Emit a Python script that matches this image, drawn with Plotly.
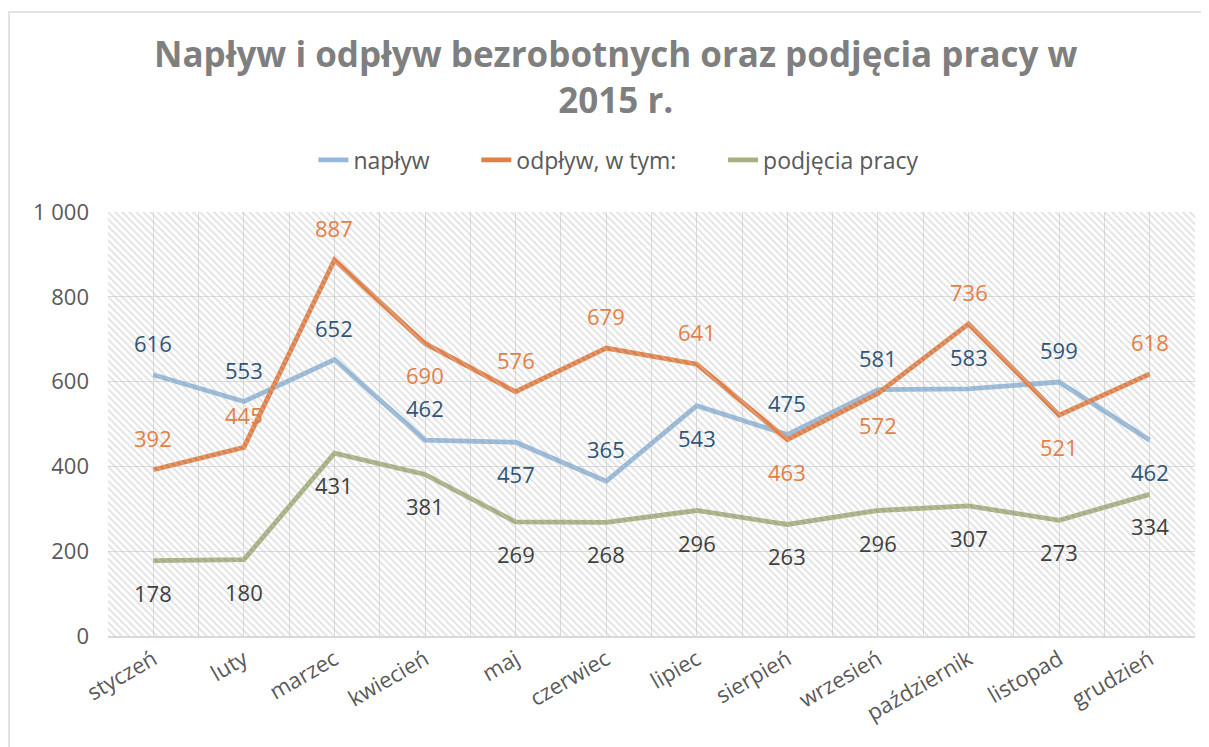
import plotly.graph_objects as go

months = ["styczeń", "luty", "marzec", "kwiecień", "maj", "czerwiec", "lipiec",
          "sierpień", "wrzesień", "październik", "listopad", "grudzień"]
naplyw = [616, 553, 652, 462, 457, 365, 543, 475, 581, 583, 599, 462]
odplyw = [392, 445, 887, 690, 576, 679, 641, 463, 572, 736, 521, 618]
podjecia = [178, 180, 431, 381, 269, 268, 296, 263, 296, 307, 273, 334]
# label position: 1 = above, -1 = below
naplyw_pos = [1, 1, 1, 1, -1, 1, -1, 1, 1, 1, 1, -1]
odplyw_pos = [1, 1, 1, -1, 1, 1, 1, -1, -1, 1, -1, 1]
podjecia_pos = [-1] * 12
y_ticks = [0, 200, 400, 600, 800, 1000]

FONT = "Open Sans"
xs = list(range(len(months)))
PAD = "\u00a0" * 7

fig = go.Figure()

# hatched plot background
fig.add_trace(go.Scatter(
    x=[0, 1, 1, 0, 0], y=[0, 0, 1, 1, 0], xaxis="x2", yaxis="y2",
    fill="toself", mode="none", fillcolor="rgba(0,0,0,0)",
    fillpattern=dict(shape="\\", fgcolor="#c4c4c4", bgcolor="rgba(255,255,255,0)",
                     size=5, solidity=0.35),
    showlegend=False, hoverinfo="skip"))

series = [
    ("napływ" + PAD, naplyw, naplyw_pos, "#94b8da", "#2f5679"),
    ("odpływ, w tym:" + PAD, odplyw, odplyw_pos, "#e47f44", "#e47f44"),
    ("podjęcia pracy", podjecia, podjecia_pos, "#a5b07f", "#404040"),
]
for name, vals, pos, lc, tc in series:
    fig.add_trace(go.Scatter(x=xs, y=vals, name=name, mode="lines",
                             line=dict(color=lc, width=4.8)))
    for xi, v, p in zip(xs, vals, pos):
        fig.add_annotation(x=xi, y=v, text=str(v), showarrow=False,
                           yshift=32 * p, font=dict(family=FONT, size=22, color=tc))

fig.add_annotation(xref="paper", yref="paper", x=0.467, y=1.3196,
                   xanchor="center", yanchor="middle", showarrow=False,
                   text="<b>Napływ i odpływ bezrobotnych oraz podjęcia pracy w<br>2015 r.</b>",
                   font=dict(family=FONT, size=35, color="#7f7f7f"))

fig.update_layout(
    width=1201, height=739,
    margin=dict(l=100, r=14, t=204, b=111),
    paper_bgcolor="white", plot_bgcolor="white",
    separators=", ",
    legend=dict(orientation="h", x=0.47, xanchor="center", y=1.123, yanchor="middle",
                font=dict(family=FONT, size=23, color="#595959"),
                traceorder="normal"),
    xaxis=dict(range=[-0.5, 11.5], tickvals=xs, ticktext=months, tickangle=-30,
               showgrid=True, gridcolor="#dcdcdc", gridwidth=1.3,
               minor=dict(tickvals=[i - 0.5 for i in range(13)], showgrid=True,
                          gridcolor="#dcdcdc", gridwidth=1.3),
               showline=True, linecolor="#d9d9d9", linewidth=2,
               tickfont=dict(family=FONT, size=22, color="#595959"),
               zeroline=False, fixedrange=True),
    yaxis=dict(range=[0, 1000], tickvals=y_ticks, separatethousands=True,
               showgrid=True, gridcolor="#dcdcdc", gridwidth=1.3,
               tickfont=dict(family=FONT, size=22, color="#595959"),
               ticklabelstandoff=18, zeroline=False, fixedrange=True),
    xaxis2=dict(range=[0, 1], overlaying="x", visible=False, fixedrange=True),
    yaxis2=dict(range=[0, 1], overlaying="y", visible=False, fixedrange=True),
    shapes=[dict(type="rect", xref="paper", yref="paper",
                 x0=-0.091, x1=1.03, y0=-0.35, y1=1.4717,
                 line=dict(color="#d9d9d9", width=1.5), fillcolor="rgba(0,0,0,0)",
                 layer="below")],
)

fig.write_html("out.html")
